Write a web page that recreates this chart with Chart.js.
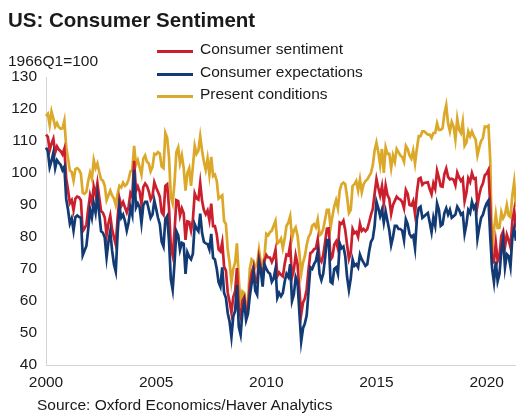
<!DOCTYPE html>
<html>
<head>
<meta charset="utf-8">
<script src="https://cdn.jsdelivr.net/npm/chart.js@4.4.1/dist/chart.umd.min.js"></script>
<style>
  body { margin: 0; background: #fff; }
  #wrap { position: relative; width: 516px; height: 416px; font-family: "Liberation Sans", Arial, sans-serif; color: #1a1a1a; }
  #wrap canvas { position: absolute; left: 0; top: 0; }
  .txt { position: absolute; white-space: nowrap; }
  .title { left: 8px; top: 10px; font-size: 20.5px; line-height: 20px; font-weight: bold; }
  .unit { left: 8px; top: 53px; font-size: 15.5px; line-height: 15.5px; }
  .src { left: 37px; top: 397px; font-size: 15.5px; line-height: 15px; }
  .leg { position: absolute; left: 157px; font-size: 15.5px; line-height: 16px; }
  .leg i { position: absolute; left: 0; width: 36px; height: 3px; }
  .leg span { position: absolute; left: 43px; top: 0; white-space: nowrap; }
</style>
</head>
<body>
<div id="wrap">
  <canvas id="plot" width="516" height="416"></canvas>
  <div class="txt title">US: Consumer Sentiment</div>
  <div class="txt unit">1966Q1=100</div>
  <div class="leg" style="top:41px"><i style="top:9px;background:#cc1f2e"></i><span>Consumer sentiment</span></div>
  <div class="leg" style="top:64px"><i style="top:9px;background:#123a74"></i><span>Consumer expectations</span></div>
  <div class="leg" style="top:86px"><i style="top:9px;background:#dba829"></i><span>Present conditions</span></div>
  <div class="txt src">Source: Oxford Economics/Haver Analytics</div>
</div>
<script>
// monthly, Jan 2000 - May 2021
let firstYear = 2000;
let yearTicks = [2000, 2005, 2010, 2015, 2020];

let sentiment = [
  112.0, 111.3, 107.1, 109.2, 110.7, 106.4, 108.3, 107.3, 106.8, 105.8, 107.6, 98.4,
  94.7, 90.6, 91.5, 88.4, 92.0, 92.6, 92.4, 91.5, 81.8, 82.7, 83.9, 88.8,
  93.0, 90.7, 95.7, 93.0, 96.9, 92.4, 88.1, 87.6, 86.1, 80.6, 84.2, 86.7,
  82.4, 79.9, 77.6, 86.0, 92.1, 89.7, 90.9, 89.3, 87.7, 89.6, 93.7, 92.6,
  103.8, 94.4, 95.8, 94.2, 90.2, 95.6, 96.7, 95.9, 94.2, 91.7, 92.8, 97.1,
  95.5, 94.1, 92.6, 87.7, 86.9, 96.0, 96.5, 89.1, 76.9, 74.2, 81.6, 91.5,
  91.2, 86.7, 88.9, 87.4, 79.1, 84.9, 84.7, 82.0, 85.4, 93.6, 92.1, 91.7,
  96.9, 91.3, 88.4, 87.1, 88.3, 85.3, 90.4, 83.4, 83.4, 80.9, 76.1, 75.5,
  78.4, 70.8, 69.5, 62.6, 59.8, 56.4, 61.2, 63.0, 70.3, 57.6, 55.3, 60.1,
  61.2, 56.3, 57.3, 65.1, 68.7, 70.8, 66.0, 65.7, 73.5, 70.6, 67.4, 72.5,
  74.4, 73.6, 73.6, 72.2, 73.6, 76.0, 67.8, 68.9, 68.2, 67.7, 71.6, 74.5,
  74.2, 77.5, 67.5, 69.8, 74.3, 71.5, 63.7, 55.8, 59.5, 60.8, 63.7, 69.9,
  75.0, 75.3, 76.2, 76.4, 79.3, 73.2, 72.3, 74.3, 78.3, 82.6, 82.7, 72.9,
  73.8, 77.6, 78.6, 76.4, 84.5, 84.1, 85.1, 82.1, 77.5, 73.2, 75.1, 82.5,
  81.2, 81.6, 80.0, 84.1, 81.9, 82.5, 81.8, 82.5, 84.6, 86.9, 88.8, 93.6,
  98.1, 95.4, 93.0, 95.9, 90.7, 96.1, 93.1, 91.9, 87.2, 90.0, 91.3, 92.6,
  92.0, 91.7, 91.0, 89.0, 94.7, 93.5, 90.0, 89.8, 91.2, 87.2, 93.8, 98.2,
  98.5, 96.3, 96.9, 97.0, 97.1, 95.0, 93.4, 96.8, 95.1, 100.7, 98.5, 95.9,
  95.7, 99.7, 101.4, 98.8, 98.0, 98.2, 97.9, 96.2, 100.1, 98.6, 97.5, 98.3,
  91.2, 93.8, 98.4, 97.2, 100.0, 98.2, 98.4, 89.8, 93.2, 95.5, 96.8, 99.3,
  99.8, 101.0, 89.1, 71.8, 72.3, 78.1, 72.5, 74.1, 80.4, 81.8, 76.9, 80.7,
  79.0, 76.8, 84.9, 88.3, 82.9
];

let expectations = [
  107.9, 106.8, 101.8, 103.8, 106.3, 101.5, 104.0, 103.2, 102.5, 100.9, 102.0, 91.9,
  88.5, 84.2, 85.8, 82.0, 86.2, 86.7, 86.3, 86.0, 74.3, 75.8, 77.2, 82.5,
  88.6, 86.0, 90.5, 87.6, 93.0, 87.3, 81.8, 81.3, 79.8, 73.6, 78.5, 81.7,
  75.8, 71.5, 69.2, 81.0, 89.5, 86.0, 87.0, 85.0, 82.0, 84.5, 89.2, 86.9,
  101.0, 89.2, 90.5, 89.3, 84.3, 89.9, 91.0, 91.0, 88.5, 86.0, 87.0, 91.4,
  88.8, 86.0, 84.0, 78.5, 77.0, 85.5, 86.5, 78.8, 66.8, 63.5, 71.8, 81.8,
  80.5, 76.0, 78.2, 77.9, 68.5, 75.2, 73.8, 73.0, 74.8, 84.0, 82.6, 81.8,
  87.3, 81.3, 78.5, 78.0, 77.8, 76.1, 81.0, 73.5, 73.0, 70.1, 65.9, 64.5,
  70.5, 62.5, 61.0, 56.2, 53.5, 48.8, 55.2, 56.9, 65.0, 52.0, 49.5, 56.5,
  59.5, 54.0, 56.0, 61.5, 65.5, 69.0, 63.2, 62.0, 72.0, 69.5, 64.5, 71.5,
  70.0, 69.0, 68.5, 66.0, 67.0, 70.0, 61.0, 62.5, 61.5, 62.5, 66.0, 68.5,
  67.5, 71.5, 60.0, 62.0, 67.5, 66.0, 56.5, 47.4, 51.5, 53.0, 55.5, 63.0,
  70.5, 70.0, 71.5, 72.5, 75.5, 68.5, 66.5, 68.5, 73.5, 79.0, 79.0, 66.0,
  65.5, 70.0, 70.5, 68.5, 78.0, 76.5, 77.0, 74.0, 67.5, 63.5, 67.0, 73.0,
  71.0, 71.5, 70.5, 74.5, 73.0, 72.0, 71.0, 71.5, 75.5, 78.5, 79.5, 83.5,
  91.0, 89.0, 86.5, 88.5, 84.5, 88.0, 85.0, 82.0, 77.5, 80.0, 83.5, 83.5,
  82.5, 82.5, 82.0, 79.0, 85.5, 84.0, 81.0, 80.0, 80.5, 76.5, 85.5, 89.0,
  89.5, 86.0, 86.5, 87.0, 87.5, 84.5, 81.5, 86.0, 83.5, 90.5, 88.5, 83.5,
  84.0, 87.5, 89.0, 87.0, 88.5, 86.0, 86.5, 87.0, 89.5, 88.5, 87.0, 87.5,
  81.0, 84.0, 88.5, 87.5, 91.0, 89.0, 90.0, 79.5, 83.0, 86.0, 87.0, 89.0,
  90.5, 91.4, 79.7, 70.1, 65.9, 72.3, 66.2, 68.5, 75.6, 79.2, 70.5, 74.6,
  74.0, 70.7, 79.7, 82.7, 78.8
];

let present = [
  117.8, 118.5, 115.0, 119.2, 117.0, 114.5, 115.6, 114.3, 113.8, 114.0, 116.4, 108.1,
  104.5, 100.8, 100.3, 97.6, 101.2, 101.5, 101.0, 99.8, 93.8, 93.5, 94.2, 97.5,
  100.1, 98.2, 104.0, 101.5, 103.0, 100.3, 98.0, 97.6, 96.0, 91.5, 93.0, 94.5,
  93.0, 92.0, 90.0, 93.5, 96.0, 95.5, 97.0, 96.0, 96.5, 98.0, 100.5, 101.0,
  108.5, 102.5, 104.0, 101.8, 99.5, 104.5, 105.5, 103.5, 103.0, 100.5, 101.8, 106.0,
  105.8, 106.5, 106.0, 102.0, 101.5, 112.5, 111.0, 105.0, 92.5, 90.5, 97.0, 106.5,
  108.0, 103.0, 105.5, 101.5, 94.5, 100.0, 101.5, 96.0, 102.0, 108.5, 106.0, 107.0,
  111.5, 107.0, 103.5, 101.0, 104.5, 99.5, 105.0, 99.0, 99.5, 97.5, 92.0, 92.5,
  93.0, 85.0, 84.0, 76.0, 72.0, 66.0, 70.0, 72.0, 78.0, 67.0, 58.5, 63.0,
  62.5, 57.8, 59.5, 70.0, 73.0, 72.5, 70.5, 71.5, 76.0, 72.0, 71.5, 74.0,
  81.0, 80.5, 81.5, 82.0, 83.5, 85.0, 78.0, 78.5, 79.5, 76.5, 79.5, 83.5,
  84.5, 86.5, 79.5, 82.0, 83.0, 80.5, 75.0, 68.5, 72.0, 74.0, 77.5, 80.0,
  81.0, 83.5, 84.0, 83.0, 85.5, 80.5, 81.0, 82.5, 85.5, 88.5, 88.5, 83.0,
  86.5, 89.5, 91.5, 89.0, 94.5, 96.5, 97.0, 96.5, 92.5, 87.5, 88.5, 96.0,
  96.5, 97.5, 94.5, 98.0, 94.0, 96.5, 97.5, 98.0, 99.0, 100.0, 102.5, 107.0,
  109.5, 106.5, 102.5, 107.5, 100.0, 108.0, 106.0, 106.0, 101.5, 105.5, 103.5, 107.5,
  106.5, 105.5, 105.0, 103.5, 108.5, 107.5, 105.5, 104.5, 107.0, 103.0, 107.5, 111.5,
  111.5, 113.0, 113.0, 112.5, 112.0, 112.0, 111.0, 112.5, 112.5, 115.5, 113.5, 113.5,
  114.0, 118.5, 121.2, 115.5, 113.0, 116.0, 114.5, 110.5, 117.0, 113.5, 112.5, 116.0,
  108.5, 109.5, 113.0, 111.5, 113.0, 111.5, 110.5, 105.5, 108.0, 110.0, 111.0, 114.5,
  114.4, 114.8, 103.7, 74.3, 82.3, 87.1, 82.8, 82.9, 87.8, 85.9, 87.0, 90.0,
  86.7, 86.2, 93.0, 97.2, 89.4
];

// month labels like "2000-01"
let labels = sentiment.map((v, i) => {
  let y = firstYear + Math.floor(i / 12);
  let m = (i % 12) + 1;
  return y + "-" + (m < 10 ? "0" + m : m);
});

Chart.defaults.font.family = '"Liberation Sans", Arial, sans-serif';
Chart.defaults.font.size = 15.5;
Chart.defaults.color = "#1a1a1a";

let lineSet = (data, color, order) => ({
  data: data,
  borderColor: color,
  borderWidth: 2.7,
  pointRadius: 0,
  tension: 0,
  order: order,
});

new Chart(document.getElementById("plot"), {
  type: "line",
  data: {
    labels: labels,
    datasets: [
      lineSet(sentiment, "#cc1f2e", 1),
      lineSet(expectations, "#123a74", 0),
      lineSet(present, "#dba829", 2),
    ],
  },
  options: {
    responsive: false,
    animation: false,
    layout: { padding: { top: 77, right: 0, bottom: 0, left: 0 } },
    plugins: { legend: { display: false }, tooltip: { enabled: false } },
    scales: {
      x: {
        offset: false,
        grid: { display: false, drawTicks: false },
        border: { display: true, color: "#d4d4d4", width: 1 },
        ticks: {
          autoSkip: false,
          maxRotation: 0,
          padding: 8,
          callback: (val, i) => {
            let l = labels[i];
            let y = +l.slice(0, 4);
            return l.endsWith("-01") && yearTicks.includes(y) ? String(y) : "";
          },
        },
        afterFit: (s) => {
          s.height = 51;
          s.paddingRight = 0;
        },
      },
      y: {
        min: 40,
        max: 130,
        grid: { display: false, drawTicks: false },
        border: { display: true, color: "#d4d4d4", width: 1 },
        ticks: { stepSize: 10, padding: 9 },
        afterFit: (s) => { s.width = 46; },
      },
    },
  },
});
</script>
</body>
</html>
